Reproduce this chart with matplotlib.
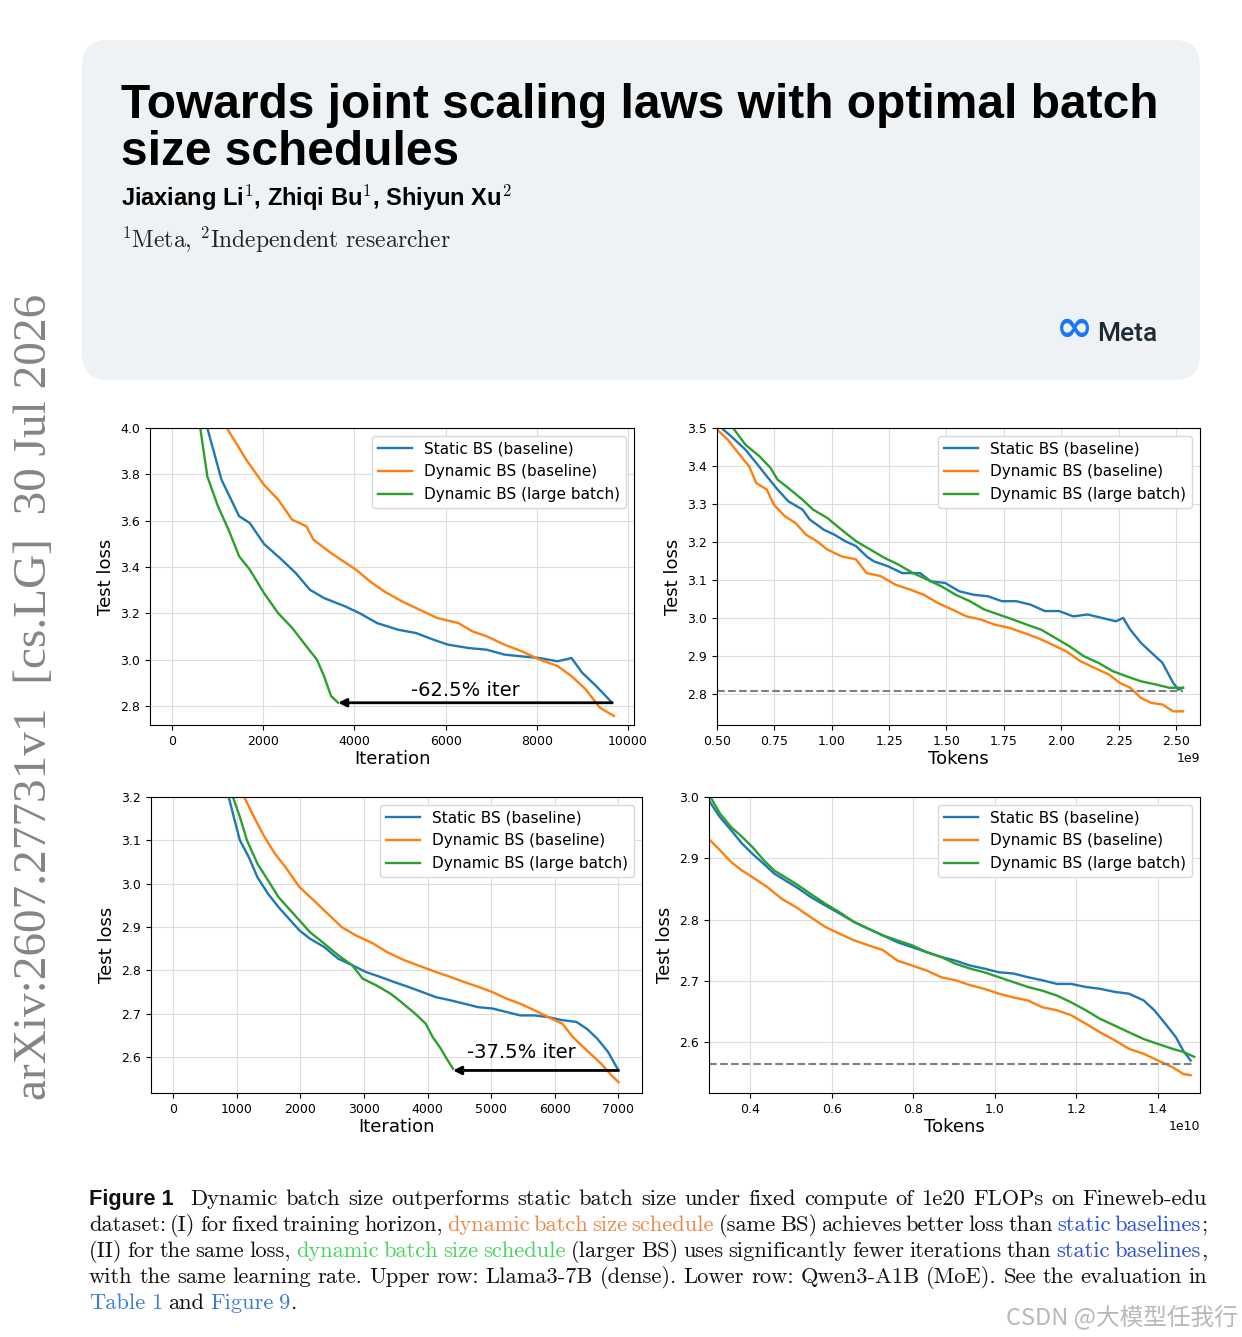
import matplotlib
matplotlib.use('Agg')
import matplotlib.pyplot as plt
from matplotlib.patches import FancyBboxPatch
from matplotlib.ticker import MultipleLocator

# ---- data ----
labels = ['Static BS (baseline)', 'Dynamic BS (baseline)', 'Dynamic BS (large batch)']
colors = ['#1f77b4', '#ff7f0e', '#2ca02c']

# upper left: Llama3-7B, loss vs iteration
ll_static_x = [775, 1085, 1473, 1705, 2016, 2403, 2713, 3023, 3333, 3798, 4109, 4496, 4961, 5349,
               5736, 6047, 6512, 6899, 7287, 7674, 8062, 8450, 8760, 8992, 9302, 9651]
ll_static_y = [4.0, 3.777, 3.619, 3.59, 3.50, 3.432, 3.374, 3.302, 3.266, 3.230, 3.201, 3.158, 3.129, 3.115,
               3.086, 3.065, 3.050, 3.043, 3.022, 3.014, 3.007, 2.993, 3.007, 2.944, 2.886, 2.814]
ll_dyn_x = [1202, 1628, 2016, 2326, 2636, 2946, 3101, 3488, 4031, 4341, 4651, 5039, 5349, 5814, 6279,
            6589, 6899, 7287, 7674, 8062, 8450, 8760, 9070, 9380, 9690]
ll_dyn_y = [4.0, 3.863, 3.755, 3.691, 3.604, 3.576, 3.518, 3.460, 3.389, 3.338, 3.295, 3.252, 3.223, 3.180, 3.158,
            3.122, 3.101, 3.065, 3.036, 3.0, 2.973, 2.929, 2.872, 2.793, 2.757]
ll_large_x = [620, 775, 1008, 1240, 1473, 1705, 2016, 2326, 2636, 2946, 3178, 3333, 3488, 3643]
ll_large_y = [4.0, 3.791, 3.662, 3.561, 3.446, 3.389, 3.288, 3.201, 3.137, 3.058, 3.0, 2.929, 2.843, 2.814]

# upper right: Llama3-7B, loss vs tokens
lt_static_x = [0.50, 0.562, 0.624, 0.671, 0.717, 0.764, 0.811, 0.873, 0.904, 0.966, 1.012, 1.059, 1.106, 1.152,
               1.183, 1.245, 1.307, 1.385, 1.432, 1.494, 1.556, 1.618, 1.680, 1.742, 1.804, 1.866, 1.929,
               1.991, 2.053, 2.115, 2.177, 2.239, 2.270, 2.301, 2.348, 2.394, 2.441, 2.488, 2.511, 2.531]
lt_static_y = [3.51, 3.478, 3.443, 3.408, 3.373, 3.338, 3.307, 3.285, 3.259, 3.232, 3.219, 3.202, 3.189, 3.162,
               3.149, 3.136, 3.118, 3.118, 3.096, 3.092, 3.070, 3.061, 3.057, 3.044, 3.044, 3.035, 3.018,
               3.018, 3.004, 3.009, 3.0, 2.991, 3.0, 2.969, 2.934, 2.908, 2.882, 2.829, 2.811, 2.816]
lt_dyn_x = [0.50, 0.547, 0.593, 0.640, 0.671, 0.717, 0.748, 0.795, 0.842, 0.888, 0.935, 0.981, 1.043, 1.106,
            1.152, 1.214, 1.276, 1.339, 1.401, 1.463, 1.525, 1.587, 1.649, 1.711, 1.773, 1.835, 1.898,
            1.960, 2.022, 2.084, 2.146, 2.208, 2.255, 2.301, 2.348, 2.394, 2.441, 2.488, 2.531]
lt_dyn_y = [3.496, 3.469, 3.434, 3.399, 3.355, 3.338, 3.298, 3.268, 3.250, 3.219, 3.202, 3.180, 3.162, 3.154,
            3.118, 3.110, 3.088, 3.075, 3.061, 3.039, 3.022, 3.004, 2.996, 2.982, 2.974, 2.961, 2.947,
            2.930, 2.912, 2.886, 2.868, 2.851, 2.829, 2.816, 2.789, 2.776, 2.772, 2.754, 2.754]
lt_large_x = [0.570, 0.624, 0.686, 0.733, 0.764, 0.811, 0.873, 0.919, 0.981, 1.043, 1.106, 1.168, 1.230,
              1.292, 1.354, 1.416, 1.478, 1.540, 1.602, 1.665, 1.727, 1.789, 1.851, 1.913, 1.975, 2.037,
              2.099, 2.161, 2.224, 2.286, 2.348, 2.410, 2.472, 2.531]
lt_large_y = [3.5, 3.456, 3.425, 3.395, 3.364, 3.342, 3.311, 3.285, 3.263, 3.232, 3.202, 3.180, 3.158,
              3.140, 3.118, 3.101, 3.083, 3.061, 3.044, 3.022, 3.009, 2.996, 2.982, 2.969, 2.947, 2.925,
              2.899, 2.882, 2.860, 2.846, 2.833, 2.825, 2.816, 2.816]
lt_target = 2.807

# lower left: Qwen3-A1B, loss vs iteration
ql_static_x = [871, 965, 1047, 1185, 1323, 1488, 1654, 1819, 1985, 2150, 2371, 2591, 2811, 3032, 3252, 3473,
               3693, 3914, 4134, 4355, 4576, 4796, 5017, 5237, 5458, 5678, 5899, 6119, 6340, 6505, 6670,
               6836, 7001]
ql_static_y = [3.2, 3.146, 3.1, 3.062, 3.015, 2.977, 2.946, 2.919, 2.892, 2.873, 2.854, 2.827, 2.812, 2.796,
               2.785, 2.773, 2.762, 2.750, 2.738, 2.731, 2.723, 2.715, 2.712, 2.704, 2.696, 2.696, 2.692,
               2.685, 2.681, 2.665, 2.642, 2.612, 2.569]
ql_dyn_x = [1114, 1268, 1433, 1599, 1764, 1985, 2205, 2426, 2646, 2867, 3142, 3363, 3638, 3914, 4134, 4355,
            4576, 4796, 5017, 5237, 5458, 5678, 5899, 6119, 6284, 6505, 6726, 6891, 7001]
ql_dyn_y = [3.2, 3.154, 3.108, 3.069, 3.038, 2.992, 2.962, 2.931, 2.9, 2.881, 2.862, 2.842, 2.823, 2.808,
            2.796, 2.785, 2.773, 2.762, 2.750, 2.735, 2.723, 2.708, 2.692, 2.677, 2.646, 2.615, 2.585,
            2.558, 2.542]
ql_large_x = [937, 1047, 1158, 1323, 1488, 1654, 1819, 1985, 2150, 2371, 2591, 2811, 2977, 3197, 3418, 3583,
              3804, 3969, 4079, 4190, 4300, 4399]
ql_large_y = [3.2, 3.154, 3.1, 3.046, 3.008, 2.969, 2.942, 2.915, 2.888, 2.862, 2.835, 2.812, 2.781, 2.765,
              2.746, 2.727, 2.7, 2.677, 2.646, 2.623, 2.596, 2.573]

# lower right: Qwen3-A1B, loss vs tokens
qt_static_x = [0.298, 0.326, 0.353, 0.380, 0.406, 0.433, 0.459, 0.486, 0.513, 0.548, 0.584, 0.619, 0.655,
               0.690, 0.726, 0.761, 0.797, 0.832, 0.868, 0.903, 0.939, 0.974, 1.010, 1.045, 1.081, 1.116,
               1.152, 1.187, 1.223, 1.258, 1.294, 1.329, 1.365, 1.391, 1.418, 1.444, 1.462, 1.480]
qt_static_y = [2.995, 2.967, 2.946, 2.924, 2.907, 2.891, 2.875, 2.864, 2.853, 2.837, 2.823, 2.810, 2.796,
               2.785, 2.774, 2.763, 2.755, 2.747, 2.739, 2.733, 2.725, 2.720, 2.714, 2.712, 2.706, 2.701,
               2.695, 2.695, 2.690, 2.687, 2.682, 2.679, 2.668, 2.652, 2.630, 2.608, 2.586, 2.570]
qt_dyn_x = [0.298, 0.326, 0.353, 0.380, 0.406, 0.442, 0.477, 0.513, 0.548, 0.584, 0.619, 0.655, 0.690,
            0.726, 0.761, 0.797, 0.832, 0.868, 0.903, 0.939, 0.974, 1.010, 1.045, 1.081, 1.116, 1.152,
            1.187, 1.223, 1.258, 1.294, 1.329, 1.365, 1.400, 1.436, 1.462, 1.480]
qt_dyn_y = [2.932, 2.913, 2.894, 2.880, 2.869, 2.853, 2.834, 2.820, 2.804, 2.788, 2.777, 2.766, 2.758,
            2.750, 2.733, 2.725, 2.717, 2.706, 2.701, 2.693, 2.687, 2.679, 2.673, 2.668, 2.657, 2.652,
            2.644, 2.630, 2.616, 2.603, 2.589, 2.581, 2.570, 2.559, 2.548, 2.546]
qt_large_x = [0.298, 0.326, 0.353, 0.380, 0.406, 0.433, 0.459, 0.486, 0.513, 0.548, 0.584, 0.619, 0.655,
              0.690, 0.726, 0.761, 0.797, 0.832, 0.868, 0.903, 0.939, 0.974, 1.010, 1.045, 1.081, 1.116,
              1.152, 1.187, 1.223, 1.258, 1.294, 1.329, 1.365, 1.400, 1.436, 1.462, 1.489]
qt_large_y = [3.005, 2.973, 2.951, 2.935, 2.918, 2.897, 2.880, 2.869, 2.858, 2.842, 2.826, 2.812, 2.796,
              2.785, 2.774, 2.766, 2.758, 2.747, 2.739, 2.728, 2.720, 2.714, 2.706, 2.698, 2.690, 2.684,
              2.676, 2.665, 2.652, 2.638, 2.627, 2.616, 2.605, 2.597, 2.589, 2.584, 2.576]
qt_target = 2.565

W, H = 1242, 1337
fig = plt.figure(figsize=(W / 100, H / 100), dpi=100)
fig.patch.set_facecolor('white')


def px_axes(x0, y0, x1, y1):
    # pixel box (top-left origin) -> axes
    return fig.add_axes([x0 / W, 1 - y1 / H, (x1 - x0) / W, (y1 - y0) / H])


def style(ax, xlabel, ylocator):
    ax.grid(True, color='#dddddd', linewidth=0.8)
    ax.set_axisbelow(True)
    ax.tick_params(labelsize=9)
    ax.set_xlabel(xlabel, fontsize=13, labelpad=2)
    ax.set_ylabel('Test loss', fontsize=13, labelpad=4)
    ax.yaxis.set_major_locator(MultipleLocator(ylocator))
    ax.xaxis.get_offset_text().set_fontsize(9)
    ax.legend(loc='upper right', fontsize=11, handlelength=2.2, framealpha=1.0, edgecolor='#d8d8d8')


def draw(ax, xs, ys, scale=1.0):
    for x, y, c, lab in zip(xs, ys, colors, labels):
        ax.plot([v * scale for v in x], y, color=c, lw=1.7, label=lab)


# upper left
ax1 = px_axes(150, 428, 634, 725)
draw(ax1, [ll_static_x, ll_dyn_x, ll_large_x], [ll_static_y, ll_dyn_y, ll_large_y])
ax1.set_xlim(-482, 10130)
ax1.set_ylim(2.718, 4.0)
ax1.set_xticks([0, 2000, 4000, 6000, 8000, 10000])
ax1.annotate('', xy=(ll_large_x[-1], ll_static_y[-1]), xytext=(ll_static_x[-1], ll_static_y[-1]),
             arrowprops=dict(arrowstyle='-|>', color='black', lw=2, mutation_scale=12, shrinkA=0, shrinkB=0))
ax1.text(6440, 2.865, '-62.5% iter', fontsize=14, ha='center', va='center')
style(ax1, 'Iteration', 0.2)

# upper right
ax2 = px_axes(717, 428, 1200, 725)
draw(ax2, [lt_static_x, lt_dyn_x, lt_large_x], [lt_static_y, lt_dyn_y, lt_large_y], scale=1e9)
ax2.hlines(lt_target, lt_static_x[0] * 1e9, lt_static_x[-1] * 1e9, colors='gray', linestyles='--', lw=1.5)
ax2.set_xlim(0.5e9, 2.605e9)
ax2.set_ylim(2.718, 3.5)
style(ax2, 'Tokens', 0.1)

# lower left
ax3 = px_axes(151, 797, 642, 1093)
draw(ax3, [ql_static_x, ql_dyn_x, ql_large_x], [ql_static_y, ql_dyn_y, ql_large_y])
ax3.set_xlim(-351, 7371)
ax3.set_ylim(2.517, 3.2)
ax3.set_xticks(range(0, 8000, 1000))
ax3.annotate('', xy=(ql_large_x[-1], ql_static_y[-1]), xytext=(ql_static_x[-1], ql_static_y[-1]),
             arrowprops=dict(arrowstyle='-|>', color='black', lw=2, mutation_scale=12, shrinkA=0, shrinkB=0))
ax3.text(5480, 2.61, '-37.5% iter', fontsize=14, ha='center', va='center')
style(ax3, 'Iteration', 0.1)

# lower right
ax4 = px_axes(709, 797, 1200, 1093)
draw(ax4, [qt_static_x, qt_dyn_x, qt_large_x], [qt_static_y, qt_dyn_y, qt_large_y], scale=1e10)
ax4.hlines(qt_target, qt_dyn_x[0] * 1e10, qt_large_x[-1] * 1e10, colors='gray', linestyles='--', lw=1.5)
ax4.set_xlim(0.299e10, 1.503e10)
ax4.set_ylim(2.517, 3.0)
style(ax4, 'Tokens', 0.1)

# ---- header card ----
card = FancyBboxPatch((82 / W, 1 - 380 / H), (1200 - 82) / W, (380 - 40) / H,
                      boxstyle='round,pad=0,rounding_size=0.02', transform=fig.transFigure,
                      facecolor='#eff2f5', edgecolor='none', zorder=-5)
fig.patches.append(card)

sans_b = dict(family=['Liberation Sans', 'DejaVu Sans'], weight='bold')
fig.text(121 / W, 1 - 118 / H, 'Towards joint scaling laws with optimal batch', fontsize=34.5,
         va='baseline', **sans_b)
fig.text(121 / W, 1 - 165 / H, 'size schedules', fontsize=34.5, va='baseline', **sans_b)
plt.rcParams['mathtext.fontset'] = 'cm'
fig.text(121 / W, 1 - 206 / H, r'Jiaxiang Li$^1$, Zhiqi Bu$^1$, Shiyun Xu$^2$', fontsize=17,
         va='baseline', **sans_b)
fig.text(121 / W, 1 - 248 / H, r'$^1$Meta, $^2$Independent researcher', fontsize=17,
         va='baseline', family=['cmr10', 'DejaVu Serif'], color='#222222')
fig.text(1093 / W, 1 - 341 / H, '\u221e', fontsize=32, va='baseline', ha='right',
         color='#1877f2', family='DejaVu Sans', weight='bold')
fig.text(1097 / W, 1 - 341 / H, 'Meta', fontsize=19, va='baseline', color='#1c2b33',
         family=['Roboto', 'DejaVu Sans'], weight='medium')

# arXiv stamp on the left margin
fig.text(35 / W, 1 - 697 / H, 'arXiv:2607.27731v1  [cs.LG]  30 Jul 2026', rotation=90,
         fontsize=34, color='#858585', ha='center', va='center', family=['Liberation Serif', 'DejaVu Serif'])

# ---- caption, justified word by word ----
serif = ['cmr10', 'DejaVu Serif']
K, OR, GR, BL, LK = '#111111', '#e98a4d', '#47d65e', '#2a4fd8', '#3b7fd0'
cap_lines = [
    [('Dynamic batch size outperforms static batch size under fixed compute of 1e20 FLOPs on Fineweb-edu', K)],
    [('dataset: (I) for fixed training horizon,', K), ('dynamic batch size schedule', OR),
     ('(same BS) achieves better loss than', K), ('static baselines', BL), (';', K)],
    [('(II) for the same loss,', K), ('dynamic batch size schedule', GR),
     ('(larger BS) uses significantly fewer iterations than', K), ('static baselines', BL), (',', K)],
    [('with the same learning rate. Upper row: Llama3-7B (dense). Lower row: Qwen3-A1B (MoE). See the evaluation in', K)],
    [('Table 1', LK), ('and', K), ('Figure 9', LK), ('.', K)],
]
cap_x0, cap_x1, cap_y0, cap_dy, cap_fs = 89, 1207, 1205, 26, 16.2
renderer = fig.canvas.get_renderer()

for i, line in enumerate(cap_lines):
    words = []
    for seg, col in line:
        if seg in (';', ',', '.') and words:
            words[-1][0].append((seg, col))
            continue
        for w in seg.split(' '):
            words.append([[(w, col)]])
    y = 1 - (cap_y0 + i * cap_dy) / H
    items = []
    if i == 0:
        t = fig.text(0, y, 'Figure 1', fontsize=15.7, va='baseline', color=K, **sans_b)
        items.append(([t], t.get_window_extent(renderer).width + 9))
    for word in words:
        parts = []
        wpx = 0
        for txt, col in word[0]:
            t = fig.text(0, y, txt, fontsize=cap_fs, va='baseline', color=col, family=serif)
            parts.append(t)
            wpx += t.get_window_extent(renderer).width
        items.append((parts, wpx))
    total = sum(w for _, w in items)
    last = i == len(cap_lines) - 1
    gap = 5.8 if last else (cap_x1 - cap_x0 - total) / (len(items) - 1)
    x = cap_x0
    for parts, wpx in items:
        xx = x
        for t in parts:
            t.set_x(xx / W)
            xx += t.get_window_extent(renderer).width
        x += wpx + gap

fig.text(1238 / W, 1 - 1318 / H, 'CSDN @大模型任我行', fontsize=17, color='#b8b8b8', ha='right',
         va='center', family=['Noto Sans CJK SC', 'DejaVu Sans'])

fig.savefig('out.png', dpi=100)
